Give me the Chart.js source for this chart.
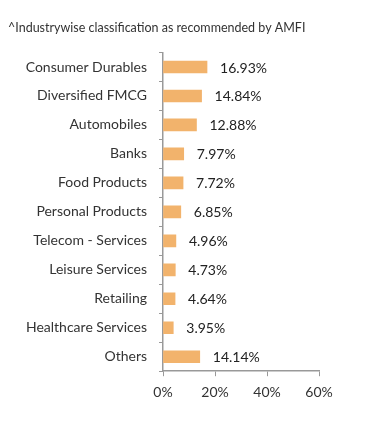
<!DOCTYPE html>
<html>
<head>
<meta charset="utf-8">
<script src="https://cdn.jsdelivr.net/npm/chart.js@4"></script>
<style>
  html, body { margin: 0; padding: 0; background: #fff; }
  #wrap { width: 391px; height: 424px; position: relative; }
</style>
</head>
<body>
<div id="wrap"><canvas id="chart"></canvas></div>
<script>
const industries = ['Consumer Durables', 'Diversified FMCG', 'Automobiles', 'Banks', 'Food Products',
    'Personal Products', 'Telecom - Services', 'Leisure Services', 'Retailing', 'Healthcare Services', 'Others'];
const weights = [16.93, 14.84, 12.88, 7.97, 7.72, 6.85, 4.96, 4.73, 4.64, 3.95, 14.14];
const xTicks = [0, 20, 40, 60];

// draws the % value to the right of each bar
const valueLabels = {
    id: 'valueLabels',
    afterDatasetsDraw(chart) {
        const ctx = chart.ctx;
        const meta = chart.getDatasetMeta(0);
        ctx.save();
        ctx.font = '14px Lato';
        ctx.fillStyle = '#222';
        ctx.textBaseline = 'middle';
        ctx.textAlign = 'left';
        meta.data.forEach((bar, i) => {
            ctx.fillText(weights[i].toFixed(2) + '%', bar.x + 13, bar.y + 1);
        });
        ctx.restore();
    }
};

new Chart(document.getElementById('chart'), {
    type: 'bar',
    data: {
        labels: industries,
        datasets: [{
            data: weights,
            backgroundColor: '#F2B36C',
            barThickness: 12
        }]
    },
    options: {
        indexAxis: 'y',
        responsive: true,
        maintainAspectRatio: false,
        animation: false,
        layout: { padding: { left: 8, right: 72, top: 10, bottom: 15 } },
        plugins: {
            legend: { display: false },
            tooltip: { enabled: false },
            title: {
                display: true,
                text: '^Industrywise classification as recommended by AMFI',
                align: 'start',
                color: '#333',
                font: { family: 'Lato', size: 12.5, weight: 'normal' },
                padding: { top: 10, bottom: 17.5 }
            }
        },
        scales: {
            x: {
                min: 0,
                max: 60,
                afterBuildTicks: axis => { axis.ticks = xTicks.map(v => ({ value: v })); },
                grid: { drawOnChartArea: false, drawTicks: true, tickLength: 5, color: '#999' },
                border: { color: '#999', width: 1.5 },
                ticks: {
                    color: '#333',
                    padding: 8,
                    font: { family: 'Lato', size: 14 },
                    callback: v => v + '%'
                }
            },
            y: {
                afterFit: axis => { axis.width = 155; },
                grid: { drawOnChartArea: false, drawTicks: true, tickLength: 4, color: '#999' },
                border: { color: '#999', width: 1.5 },
                ticks: {
                    color: '#333',
                    padding: 12,
                    font: { family: 'Lato', size: 14 }
                }
            }
        }
    },
    plugins: [valueLabels]
});
</script>
</body>
</html>
